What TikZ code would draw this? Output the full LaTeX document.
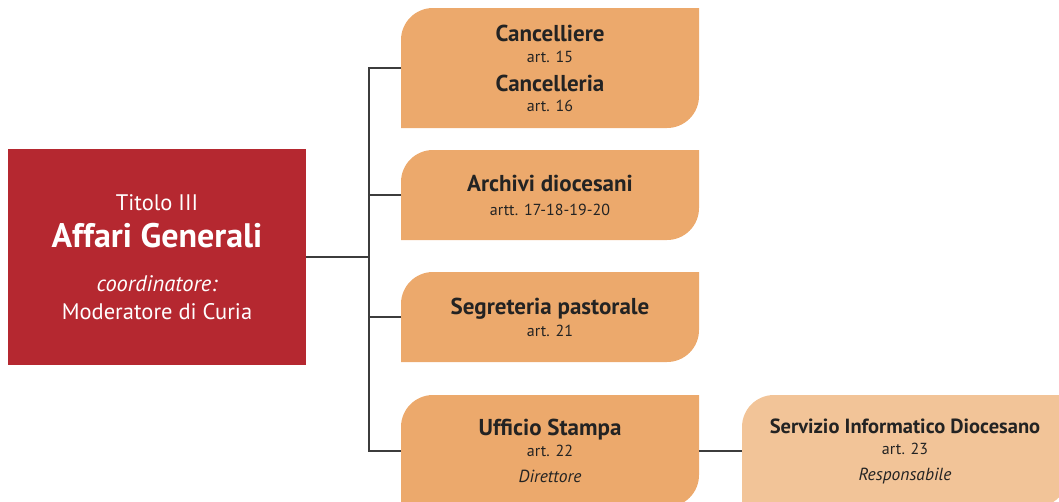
\documentclass[tikz,border=0pt]{standalone}
\usepackage{fontspec}
\setmainfont{PT Sans}
\usetikzlibrary{positioning}

\definecolor{curiared}{RGB}{181,40,48}
\definecolor{ufforange}{RGB}{236,169,108}
\definecolor{servlight}{RGB}{242,196,152}
\definecolor{linegray}{RGB}{60,60,60}
\definecolor{textdark}{RGB}{35,35,35}

% box with two rounded corners (top left, bottom right)
\newcommand{\leafshape}[1]{%
  \fill[#1] (path picture bounding box.south west)
    -- ([yshift=-32pt]path picture bounding box.north west)
    arc[start angle=180, end angle=90, radius=32pt]
    -- (path picture bounding box.north east)
    -- ([yshift=32pt]path picture bounding box.south east)
    arc[start angle=0, end angle=-90, radius=32pt]
    -- cycle;}
\newcommand{\uname}[1]{{\fontsize{23}{26}\selectfont\bfseries #1}}
\newcommand{\uart}[1]{{\fontsize{16}{19}\selectfont #1}}
\newcommand{\urole}[1]{{\fontsize{17.5}{20}\selectfont\itshape #1}}

\tikzset{
  titolo/.style={fill=curiared, text=white, minimum width=298pt, minimum height=216pt,
    align=center, inner sep=0pt, outer sep=0pt, font=\fontsize{22.5}{24}\selectfont},
  ufficio/.style={minimum width=298pt, minimum height=#1, align=center, inner sep=0pt,
    outer sep=0pt, text=textdark, font=\fontsize{16}{20}\selectfont,
    path picture={\leafshape{ufforange}}},
  servizio/.style={ufficio=#1, minimum width=326pt, path picture={\leafshape{servlight}}},
  conn/.style={draw=linegray, line width=1.2pt},
}

\begin{document}
\begin{tikzpicture}
\useasboundingbox (0,0) rectangle (1059pt,-501pt);

%titolo
\node[titolo] (titolo) at (157pt,-257pt)
  {Titolo III\\[12pt]{\fontsize{34}{36}\selectfont\bfseries Affari Generali}\\[20pt]
   {\itshape coordinatore:}\\[4pt]Moderatore di Curia};

%cancelleria
\node[ufficio=120pt, anchor=north west] (canc) at (401pt,-8pt)
  {\uname{Cancelliere}\\[1pt]\uart{art. 15}\\[9pt]\uname{Cancelleria}\\\uart{art. 16}};
%archivi
\node[ufficio=90pt, below=22pt of canc] (arch)
  {\uname{Archivi diocesani}\\[4pt]\uart{artt. 17-18-19-20}};
%segreteria
\node[ufficio=90pt, below=32pt of arch] (segr)
  {\uname{Segreteria pastorale}\\[2pt]\uart{art. 21}};
%stampa
\node[ufficio=112pt, below=33pt of segr] (stampa)
  {\uname{Ufficio Stampa}\\[1pt]\uart{art. 22}\\[6pt]\urole{Direttore}};
%servizio informatico
\node[servizio=112pt, right=43pt of stampa] (sid)
  {{\fontsize{20.5}{24}\selectfont\bfseries Servizio Informatico Diocesano}\\[1pt]\uart{art. 23}\\[6pt]\urole{Responsabile}};

\coordinate (spine) at ([xshift=-32pt]canc.west);

\draw[conn] (canc.west) -- (spine) |- (stampa.west);
\draw[conn] (arch.west) -- (arch.west -| spine);
\draw[conn] (segr.west) -- (segr.west -| spine);
\draw[conn] (titolo.east) -- (titolo.east -| spine);
\draw[conn] (stampa.east) -- (sid.west);

\end{tikzpicture}
\end{document}
